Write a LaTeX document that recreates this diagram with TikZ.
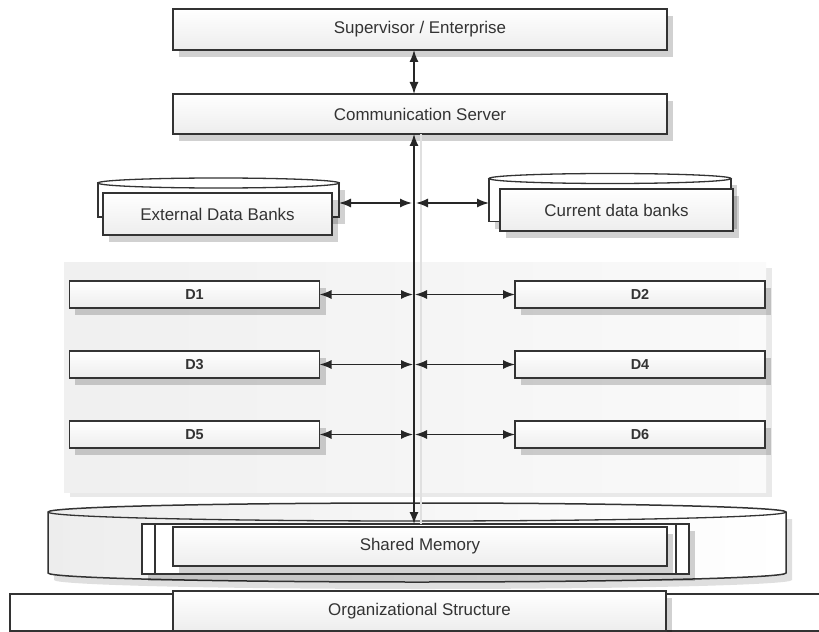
\documentclass[tikz,border=0pt]{standalone}
\usepackage{fontspec}
\setmainfont{Liberation Sans}
\usetikzlibrary{arrows.meta,shadows,calc}
\begin{document}
\begin{tikzpicture}[x=1bp,y=-1bp,
  shad/.style={drop shadow={shadow xshift=6bp,shadow yshift=-7bp,fill=black,opacity=0.18}},
  box/.style={draw=black!80,line width=1.5bp,top color=white,bottom color=black!7,shad,
    inner sep=0pt,outer sep=0pt,text=black!80,font=\fontsize{17}{20}\selectfont},
  plainbox/.style={draw=black!80,line width=1.5bp,fill=white,shad,inner sep=0pt,outer sep=0pt},
  dbox/.style={box,font=\fontsize{14.5}{16}\selectfont\bfseries,minimum width=250bp,minimum height=27bp},
  conn/.style={draw=black!85,line width=1.4bp,{Latex[length=12bp,width=9bp]}-{Latex[length=12bp,width=9bp]}},
  shline/.style={draw=black!12,line width=1.5bp},
]
\useasboundingbox (0,0) rectangle (819,632);
\clip (0,0) rectangle (819,632);

\coordinate (busx) at (414,0);

% gray panel behind D boxes
\fill[black!12,opacity=0.7] (70,268) rectangle (772,497);
\fill[left color=black!6,right color=black!2] (64,262) rectangle (766,492);

% top boxes
\node[box,minimum width=494bp,minimum height=41bp] (sup) at (420,29.5) {Supervisor / Enterprise};
\node[box,minimum width=494bp,minimum height=40bp] (com) at (420,114) {Communication Server};
\draw[conn] (sup.south -| busx) -- (com.north -| busx);

% external data banks
\node[plainbox,minimum width=241bp,minimum height=34bp] (extB) at (218.5,200) {};
\draw[draw=black!80,line width=1.3bp,fill=white] (extB.north) ellipse [x radius=120.5bp, y radius=5bp];
\node[box,minimum width=229bp,minimum height=42bp] (ext) at (217.5,214) {External Data Banks};

% current data banks
\node[plainbox,minimum width=242bp,minimum height=43bp] (curB) at (610,200) {};
\draw[draw=black!80,line width=1.3bp,fill=white] (curB.north) ellipse [x radius=121bp, y radius=5bp];
\node[box,minimum width=233bp,minimum height=42bp] (cur) at (616.5,210) {Current data banks};

% D boxes
\node[dbox] (d1) at (194.5,294.5) {D1};
\node[dbox] (d2) at (640,294.5) {D2};
\node[dbox] (d3) at (194.5,364.5) {D3};
\node[dbox] (d4) at (640,364.5) {D4};
\node[dbox] (d5) at (194.5,434.5) {D5};
\node[dbox] (d6) at (640,434.5) {D6};

% shared memory outer container
\path[fill=black!25,opacity=0.5] (54,519) -- (54,580)
  .. controls (54,585) and (219,589) .. (423,589)
  .. controls (627,589) and (792,585) .. (792,580) -- (792,519) -- cycle;
\draw[draw=black!80,line width=1.5bp,left color=black!7,right color=white]
  (48,512) -- (48,573)
  .. controls (48,578) and (213,582) .. (417,582)
  .. controls (621,582) and (786,578) .. (786,573)
  -- (786,512)
  .. controls (786,507) and (621,503) .. (417,503)
  .. controls (213,503) and (48,507) .. (48,512) -- cycle;
\draw[draw=black!80,line width=1.3bp]
  (48,512) .. controls (48,517) and (213,521) .. (417,521)
  .. controls (621,521) and (786,517) .. (786,512);

\node[plainbox,minimum width=547bp,minimum height=50bp] (smP) at (415.5,549) {};
\draw[draw=black!80,line width=1.5bp] ([xshift=13bp]smP.north west) -- ([xshift=13bp]smP.south west);
\draw[draw=black!80,line width=1.5bp] ([xshift=-13bp]smP.north east) -- ([xshift=-13bp]smP.south east);
\node[box,minimum width=494bp,minimum height=39bp] (sm) at (420,546.5) {Shared Memory};

% bus
\draw[shline] ([xshift=7bp]com.south -| busx) -- ([xshift=7bp]smP.north -| busx);
\draw[conn] (com.south -| busx) -- (smP.north -| busx);

% side connectors
\draw[conn,shorten >=1bp] (extB.east |- 0,203) -- ([xshift=-1bp]busx |- 0,203);
\draw[conn,shorten <=1bp] ([xshift=1bp]busx |- 0,203) -- (curB.west |- 0,203);
\foreach \l/\r in {d1/d2,d3/d4,d5/d6}{
  \draw[conn] (\l.east) -- ([xshift=-1bp]\l.east -| busx);
  \draw[conn] ([xshift=1bp]\r.west -| busx) -- (\r.west);
}

% organizational structure
\node[plainbox,minimum width=830bp,minimum height=37bp,anchor=north west] (orgB) at (10,594) {};
\node[box,minimum width=493bp,minimum height=40bp] (org) at (419.5,611) {Organizational Structure};
\end{tikzpicture}
\end{document}
